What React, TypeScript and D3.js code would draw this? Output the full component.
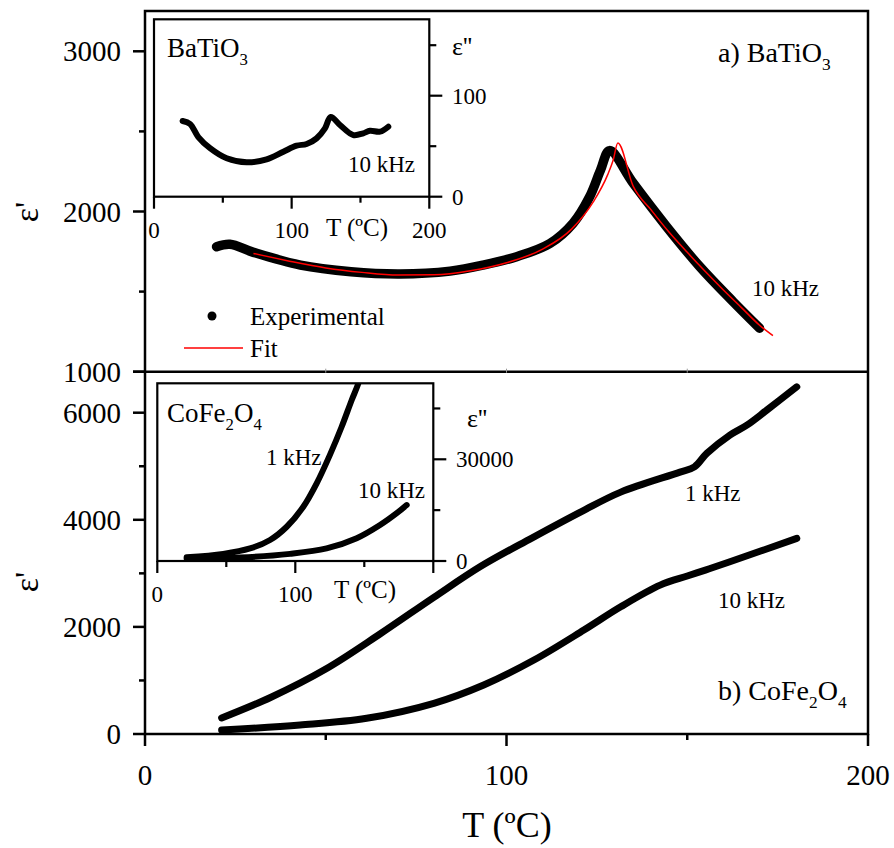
import React from 'react';
import * as d3 from 'd3';

// ---- data ----
// a) BaTiO3, eps' at 10 kHz
const batExpT = [19.8, 23.5, 30, 43, 57, 70.5, 84.4, 93.5, 102.8, 112, 118.4, 123, 126, 128.5, 135.1, 144.3, 153.5, 162.7, 170];
const batExpEps = [1780, 1795, 1745, 1665, 1624, 1610, 1628, 1665, 1718, 1800, 1926, 2092, 2258, 2380, 2175, 1905, 1655, 1437, 1272];
const batFitT = [30, 40, 50, 60, 70, 80, 90, 100, 110, 118, 124, 128, 129.5, 130.8, 135, 140, 145, 150, 155, 160, 165, 170, 173.7];
const batFitEps = [1738, 1690, 1648, 1620, 1603, 1605, 1630, 1680, 1765, 1890, 2060, 2230, 2320, 2428, 2160, 2010, 1870, 1745, 1625, 1510, 1400, 1290, 1225];
// inset a) eps'' at 10 kHz
const batLossT = [20.8, 26.2, 32.2, 40.7, 52.8, 67.3, 81.8, 94, 103.6, 110.9, 118.1, 124.2, 128.4, 135.1, 144.8, 152, 156.9, 164.2, 170.2];
const batLoss = [75, 72, 59, 48, 38, 34, 37, 44.6, 50.5, 52.2, 57.8, 67.7, 79, 71, 61, 62.8, 65.3, 64.4, 69.3];

// b) CoFe2O4, eps'
const cfoT1k = [21.2, 35, 50, 65, 80, 93, 107, 121, 131.6, 148, 152, 155.4, 161.8, 166.5, 172, 180.3];
const cfoEps1k = [299, 691, 1213, 1867, 2557, 3136, 3659, 4163, 4517, 4891, 4990, 5240, 5582, 5768, 6048, 6483];
const cfoT10k = [21.2, 42.9, 61.3, 79.9, 93.7, 107.6, 121.4, 131.6, 142.5, 150, 155, 161.8, 180.3];
const cfoEps10k = [75, 168, 293, 573, 915, 1381, 1941, 2376, 2780, 2950, 3060, 3216, 3653];
// inset b) eps''
const cfoLossT1k = [21.3, 47.8, 67.2, 81.7, 93.8, 105.8, 115.5, 125.1, 133.6, 140.9, 145.7, 148];
const cfoLoss1k = [1100, 2100, 3700, 6200, 10100, 16000, 22900, 31300, 39600, 47500, 52400, 56000];
const cfoLossT10k = [21.3, 59.9, 96.2, 122.7, 144.5, 161.4, 173.5, 180.7];
const cfoLoss10k = [700, 1000, 2100, 3700, 6700, 10600, 14100, 16500];

const xMajor = [0, 100, 200];
const xMinor = [50, 150];
const topMajor = [1000, 2000, 3000];
const topMinor = [1500, 2500];
const botMajor = [0, 2000, 4000, 6000];
const botMinor = [1000, 3000, 5000];
const inAMajor = [0, 100];
const inAMinor = [50, 150];
const inBMajor = [0, 30000];
const inBMinor = [15000, 45000];

const FONT = 'Liberation Serif';

type Pt = [number, number];
const zip = (a: number[], b: number[]): Pt[] => a.map((v, i) => [v, b[i]]);

const Sub = ({ x, y, size, parts }: { x: number; y: number; size: number; parts: [string, boolean][] }) => {
  const off = size * 0.28;
  let cur = 0;
  return (
    <text x={x} y={y} fontSize={size} fontFamily={FONT}>
      {parts.map(([s, sub], i) => {
        const dy = (sub ? off : 0) - cur;
        cur = sub ? off : 0;
        return (
          <tspan key={i} dy={dy} fontSize={sub ? size * 0.62 : size}>{s}</tspan>
        );
      })}
    </text>
  );
};

export default function App() {
  const x = d3.scaleLinear().domain([0, 200]).range([145, 868]);
  const yTop = d3.scaleLinear().domain([1000, 3000]).range([371.7, 51.3]);
  const yBot = d3.scaleLinear().domain([0, 6000]).range([734, 412.7]);

  const xa = d3.scaleLinear().domain([0, 200]).range([154, 429.3]);
  const ya = d3.scaleLinear().domain([0, 100]).range([196.7, 95.7]);
  const xb = d3.scaleLinear().domain([0, 200]).range([157.3, 433.3]);
  const yb = d3.scaleLinear().domain([0, 30000]).range([561, 459.3]);

  const smooth = d3.curveCatmullRom.alpha(0.5);
  const mk = (sx: d3.ScaleLinear<number, number>, sy: d3.ScaleLinear<number, number>, c: d3.CurveFactory = smooth) =>
    d3.line<Pt>().x(d => sx(d[0])).y(d => sy(d[1])).curve(c);

  const lTop = mk(x, yTop);
  const lFit = mk(x, yTop, d3.curveMonotoneX);
  const lBot = mk(x, yBot);
  const lA = mk(xa, ya);
  const lB = mk(xb, yb);

  const left = x(0), right = x(200), top = 11, bottom = yBot(0), mid = yTop(1000);
  const thick = { fill: 'none', stroke: '#000', strokeLinecap: 'round' as const, strokeLinejoin: 'round' as const };

  return (
    <svg width={894} height={848} style={{ position: 'absolute', left: 0, top: 0, background: '#fff' }}>
      <defs>
        <clipPath id="clipB">
          <rect x={xb(0)} y={383.3} width={xb(200) - xb(0)} height={561 - 383.3} />
        </clipPath>
      </defs>

      {/* main frame */}
      <rect x={left} y={top} width={right - left} height={bottom - top} fill="none" stroke="#000" strokeWidth={2.5} />
      <line x1={left - 12} x2={right} y1={mid} y2={mid} stroke="#000" strokeWidth={2.5} />
      {[50, 100, 150].map(t => (
        <line key={t} x1={x(t)} x2={x(t)} y1={mid - 3} y2={mid + 1} stroke="#999" strokeWidth={1} />
      ))}

      {/* left axis ticks */}
      {topMajor.map(v => (
        <g key={'tm' + v}>
          <line x1={left - 12} x2={left} y1={yTop(v)} y2={yTop(v)} stroke="#000" strokeWidth={2.5} />
          <text x={121} y={yTop(v)} dy="0.35em" textAnchor="end" fontSize={29} fontFamily={FONT}>{v}</text>
        </g>
      ))}
      {topMinor.map(v => (
        <line key={'tn' + v} x1={left - 6} x2={left} y1={yTop(v)} y2={yTop(v)} stroke="#000" strokeWidth={2.5} />
      ))}
      {botMajor.map(v => (
        <g key={'bm' + v}>
          <line x1={left - 12} x2={left} y1={yBot(v)} y2={yBot(v)} stroke="#000" strokeWidth={2.5} />
          <text x={121} y={yBot(v)} dy="0.35em" textAnchor="end" fontSize={29} fontFamily={FONT}>{v}</text>
        </g>
      ))}
      {botMinor.map(v => (
        <line key={'bn' + v} x1={left - 6} x2={left} y1={yBot(v)} y2={yBot(v)} stroke="#000" strokeWidth={2.5} />
      ))}

      {/* bottom axis ticks */}
      {xMajor.map(v => (
        <g key={'xm' + v}>
          <line x1={x(v)} x2={x(v)} y1={bottom} y2={bottom + 12} stroke="#000" strokeWidth={2.5} />
          <text x={x(v)} y={785} textAnchor="middle" fontSize={29} fontFamily={FONT}>{v}</text>
        </g>
      ))}
      {xMinor.map(v => (
        <line key={'xn' + v} x1={x(v)} x2={x(v)} y1={bottom} y2={bottom + 6} stroke="#000" strokeWidth={2.5} />
      ))}

      {/* axis titles */}
      <text x={507} y={837} textAnchor="middle" fontSize={36} fontFamily={FONT}>T (ºC)</text>
      <text transform="translate(38,212) rotate(-90)" textAnchor="middle" fontSize={34} fontFamily={FONT}>ε'</text>
      <text transform="translate(38,582) rotate(-90)" textAnchor="middle" fontSize={34} fontFamily={FONT}>ε'</text>

      {/* a) BaTiO3 main curves */}
      <path d={lTop(zip(batExpT, batExpEps)) || ''} {...thick} strokeWidth={9.5} />
      <path d={lFit(zip(batFitT, batFitEps)) || ''} fill="none" stroke="#f00" strokeWidth={1.5} />
      <Sub x={718} y={62} size={28} parts={[['a) BaTiO', false], ['3', true]]} />
      <text x={752} y={296} fontSize={23} fontFamily={FONT}>10 kHz</text>

      {/* legend */}
      <circle cx={212} cy={316} r={4.5} fill="#000" />
      <text x={250} y={325} fontSize={25} fontFamily={FONT}>Experimental</text>
      <line x1={184} x2={243} y1={348} y2={348} stroke="#f00" strokeWidth={1.5} />
      <text x={250} y={357} fontSize={25} fontFamily={FONT}>Fit</text>

      {/* b) CoFe2O4 main curves */}
      <path d={lBot(zip(cfoT1k, cfoEps1k)) || ''} {...thick} strokeWidth={7} />
      <path d={lBot(zip(cfoT10k, cfoEps10k)) || ''} {...thick} strokeWidth={7} />
      <text x={685} y={501} fontSize={23} fontFamily={FONT}>1 kHz</text>
      <text x={718} y={608} fontSize={23} fontFamily={FONT}>10 kHz</text>
      <Sub x={718} y={700} size={28} parts={[['b) CoFe', false], ['2', true], ['O', false], ['4', true]]} />

      {/* inset a */}
      <rect x={xa(0)} y={19.3} width={xa(200) - xa(0)} height={ya(0) - 19.3} fill="#fff" stroke="#000" strokeWidth={2.2} />
      {xMajor.map(v => (
        <g key={'iax' + v}>
          <line x1={xa(v)} x2={xa(v)} y1={ya(0)} y2={ya(0) + 12} stroke="#000" strokeWidth={2.2} />
          <text x={xa(v)} y={238} textAnchor="middle" fontSize={23} fontFamily={FONT}>{v}</text>
        </g>
      ))}
      {xMinor.map(v => (
        <line key={'ian' + v} x1={xa(v)} x2={xa(v)} y1={ya(0)} y2={ya(0) + 6} stroke="#000" strokeWidth={2.2} />
      ))}
      {inAMajor.map(v => (
        <g key={'iay' + v}>
          <line x1={xa(200)} x2={xa(200) + 13} y1={ya(v)} y2={ya(v)} stroke="#000" strokeWidth={2.2} />
          <text x={452} y={ya(v)} dy="0.35em" fontSize={23} fontFamily={FONT}>{v}</text>
        </g>
      ))}
      {inAMinor.map(v => (
        <line key={'iayn' + v} x1={xa(200)} x2={xa(200) + 7} y1={ya(v)} y2={ya(v)} stroke="#000" strokeWidth={2.2} />
      ))}
      <text x={357} y={236} textAnchor="middle" fontSize={25} fontFamily={FONT}>T (ºC)</text>
      <text x={452} y={55} fontSize={26} fontFamily={FONT}>ε''</text>
      <path d={lA(zip(batLossT, batLoss)) || ''} {...thick} strokeWidth={6} />
      <Sub x={167} y={57} size={27} parts={[['BaTiO', false], ['3', true]]} />
      <text x={348} y={172} fontSize={23} fontFamily={FONT}>10 kHz</text>

      {/* inset b */}
      <rect x={xb(0)} y={383.3} width={xb(200) - xb(0)} height={yb(0) - 383.3} fill="#fff" stroke="#000" strokeWidth={2.2} />
      {xMajor.map(v => (
        <g key={'ibx' + v}>
          <line x1={xb(v)} x2={xb(v)} y1={yb(0)} y2={yb(0) + 12} stroke="#000" strokeWidth={2.2} />
          {v < 200 && <text x={xb(v)} y={602} textAnchor="middle" fontSize={23} fontFamily={FONT}>{v}</text>}
        </g>
      ))}
      {xMinor.map(v => (
        <line key={'ibn' + v} x1={xb(v)} x2={xb(v)} y1={yb(0)} y2={yb(0) + 6} stroke="#000" strokeWidth={2.2} />
      ))}
      {inBMajor.map(v => (
        <g key={'iby' + v}>
          <line x1={xb(200)} x2={xb(200) + 13} y1={yb(v)} y2={yb(v)} stroke="#000" strokeWidth={2.2} />
          <text x={456} y={yb(v)} dy="0.35em" fontSize={23} fontFamily={FONT}>{v}</text>
        </g>
      ))}
      {inBMinor.map(v => (
        <line key={'ibyn' + v} x1={xb(200)} x2={xb(200) + 7} y1={yb(v)} y2={yb(v)} stroke="#000" strokeWidth={2.2} />
      ))}
      <text x={365} y={598} textAnchor="middle" fontSize={25} fontFamily={FONT}>T (ºC)</text>
      <text x={467} y={427} fontSize={26} fontFamily={FONT}>ε''</text>
      <g clipPath="url(#clipB)">
        <path d={lB(zip(cfoLossT1k, cfoLoss1k)) || ''} {...thick} strokeWidth={6} />
        <path d={lB(zip(cfoLossT10k, cfoLoss10k)) || ''} {...thick} strokeWidth={6} />
      </g>
      <Sub x={167} y={422} size={27} parts={[['CoFe', false], ['2', true], ['O', false], ['4', true]]} />
      <text x={266} y={465} fontSize={23} fontFamily={FONT}>1 kHz</text>
      <text x={358} y={498} fontSize={23} fontFamily={FONT}>10 kHz</text>
    </svg>
  );
}
